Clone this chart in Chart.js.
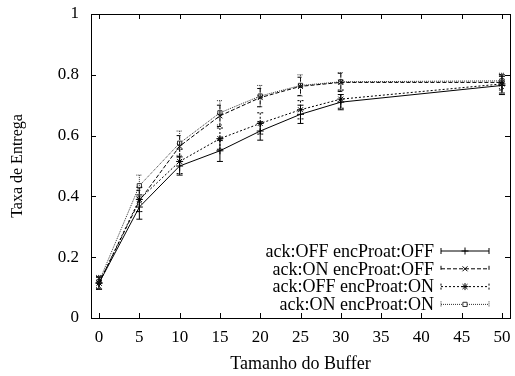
<!DOCTYPE html>
<html>
<head>
<meta charset="utf-8">
<script src="https://cdn.jsdelivr.net/npm/chart.js@4.4.0/dist/chart.umd.min.js"></script>
<style>
  html, body { margin: 0; padding: 0; background: #fff; }
  #wrap { width: 515px; height: 376px; }
</style>
</head>
<body>
<div id="wrap"><canvas id="chart" width="515" height="376"></canvas></div>
<script>
// Data
const bufferSizes = [0, 5, 10, 15, 20, 25, 30, 50];
const xTicks = [0, 5, 10, 15, 20, 25, 30, 35, 40, 45, 50];
const yTicks = [0, 0.2, 0.4, 0.6, 0.8, 1];

const labels = ['ack:OFF encProat:OFF', 'ack:ON encProat:OFF', 'ack:OFF encProat:ON', 'ack:ON encProat:ON'];

const offOff = [0.115, 0.365, 0.50, 0.55, 0.615, 0.67, 0.71, 0.765];
const onOff  = [0.115, 0.385, 0.565, 0.665, 0.725, 0.762, 0.775, 0.775];
const offOn  = [0.115, 0.39, 0.515, 0.59, 0.64, 0.685, 0.72, 0.77];
const onOn   = [0.12, 0.435, 0.575, 0.675, 0.73, 0.765, 0.777, 0.78];

const errOffOff = [0.02, 0.04, 0.03, 0.035, 0.03, 0.03, 0.025, 0.03];
const errOnOff  = [0.02, 0.035, 0.035, 0.035, 0.03, 0.03, 0.03, 0.025];
const errOffOn  = [0.02, 0.04, 0.04, 0.035, 0.035, 0.03, 0.03, 0.03];
const errOnOn   = [0.02, 0.035, 0.04, 0.04, 0.035, 0.035, 0.03, 0.025];

const FONT = 'Liberation Serif';

function makeSet(label, values, errors, dash, marker, color) {
    return {
        label: label,
        data: bufferSizes.map((x, i) => ({ x: x, y: values[i] })),
        errors: errors,
        borderColor: color,
        borderWidth: 1,
        borderDash: dash,
        pointStyle: marker,
        pointRadius: marker === 'rect' ? 3 : 3.5,
        pointBorderColor: color,
        pointBackgroundColor: '#fff',
        pointBorderWidth: 1,
        fill: false,
        tension: 0
    };
}

// Error bars, drawn with the scales
const errorBars = {
    id: 'errorBars',
    afterDatasetsDraw(chart) {
        const c = chart.ctx;
        const yScale = chart.scales.y;
        chart.data.datasets.forEach((ds, di) => {
            const meta = chart.getDatasetMeta(di);
            c.save();
            c.strokeStyle = ds.borderColor;
            c.lineWidth = 1;
            c.setLineDash(ds.borderDash);
            meta.data.forEach((pt, i) => {
                const v = ds.data[i].y;
                const e = ds.errors[i];
                const yt = yScale.getPixelForValue(v + e);
                const yb = yScale.getPixelForValue(v - e);
                c.beginPath();
                c.moveTo(pt.x, yt); c.lineTo(pt.x, yb);
                c.moveTo(pt.x - 3, yt); c.lineTo(pt.x + 3, yt);
                c.moveTo(pt.x - 3, yb); c.lineTo(pt.x + 3, yb);
                c.stroke();
            });
            c.restore();
        });
    }
};

// Border box, inward ticks on all four sides, and the legend inside the plot
const frame = {
    id: 'frame',
    afterDraw(chart) {
        const c = chart.ctx;
        const a = chart.chartArea;
        const xs = chart.scales.x, ys = chart.scales.y;
        c.save();
        c.strokeStyle = '#000';
        c.lineWidth = 1;
        c.setLineDash([]);
        c.strokeRect(Math.round(a.left) + 0.5, Math.round(a.top) + 0.5,
                     Math.round(a.right - a.left), Math.round(a.bottom - a.top));
        c.beginPath();
        xTicks.forEach(v => {
            const px = Math.round(xs.getPixelForValue(v)) + 0.5;
            c.moveTo(px, a.bottom); c.lineTo(px, a.bottom - 5);
            c.moveTo(px, a.top); c.lineTo(px, a.top + 5);
        });
        yTicks.forEach(v => {
            const py = Math.round(ys.getPixelForValue(v)) + 0.5;
            c.moveTo(a.left, py); c.lineTo(a.left + 5, py);
            c.moveTo(a.right, py); c.lineTo(a.right - 5, py);
        });
        c.stroke();

        // legend
        c.font = '18px "' + FONT + '"';
        c.textAlign = 'right';
        c.textBaseline = 'middle';
        c.fillStyle = '#000';
        chart.data.datasets.forEach((ds, i) => {
            const y = a.bottom - 67 + i * 17.8;
            const x1 = a.right - 69, x2 = a.right - 21;
            c.fillText(ds.label, x1 - 7, y + 1);
            c.save();
            c.strokeStyle = ds.borderColor;
            c.setLineDash(ds.borderDash);
            c.beginPath();
            c.moveTo(x1, y); c.lineTo(x2, y);
            c.moveTo(x1, y - 3); c.lineTo(x1, y + 3);
            c.moveTo(x2, y - 3); c.lineTo(x2, y + 3);
            c.stroke();
            c.setLineDash([]);
            c.fillStyle = '#fff';
            Chart.helpers.drawPoint(c, {
                pointStyle: ds.pointStyle, radius: ds.pointRadius, rotation: 0, borderWidth: 1
            }, (x1 + x2) / 2, y);
            c.restore();
        });
        c.restore();
    }
};

const ctx = document.getElementById('chart').getContext('2d');
const chart = new Chart(ctx, {
    type: 'line',
    data: {
        datasets: [
            makeSet(labels[0], offOff, errOffOff, [], 'cross', '#000'),
            makeSet(labels[1], onOff, errOnOff, [4, 2], 'crossRot', '#000'),
            makeSet(labels[2], offOn, errOffOn, [2, 2], 'star', '#000'),
            makeSet(labels[3], onOn, errOnOn, [1, 1], 'rect', '#333')
        ]
    },
    options: {
        responsive: false,
        animation: false,
        devicePixelRatio: 1,
        layout: { padding: { top: 14, right: 4, left: 0, bottom: 0 } },
        plugins: {
            legend: { display: false },
            tooltip: { enabled: false }
        },
        scales: {
            x: {
                type: 'linear',
                min: -1,
                max: 51,
                afterBuildTicks: s => { s.ticks = xTicks.map(v => ({ value: v })); },
                afterFit: s => { s.height = 58; s.paddingLeft = 0; s.paddingRight = 0; },
                grid: { display: false, drawTicks: false },
                border: { display: false },
                ticks: {
                    padding: 9,
                    color: '#000',
                    font: { family: FONT, size: 17 },
                    maxRotation: 0,
                    autoSkip: false
                },
                title: {
                    display: true,
                    text: 'Tamanho do Buffer',
                    color: '#000',
                    font: { family: FONT, size: 18 },
                    padding: { top: 0, bottom: 1 }
                }
            },
            y: {
                min: 0,
                max: 1,
                afterBuildTicks: s => { s.ticks = yTicks.map(v => ({ value: v })); },
                afterFit: s => { s.width = 91; s.paddingTop = 0; s.paddingBottom = 0; },
                grid: { display: false, drawTicks: false },
                border: { display: false },
                ticks: {
                    padding: 12,
                    color: '#000',
                    font: { family: FONT, size: 17 },
                    callback: v => String(v)
                },
                title: {
                    display: true,
                    text: 'Taxa de Entrega',
                    color: '#000',
                    font: { family: FONT, size: 16 },
                    padding: { top: 8, bottom: 0 }
                }
            }
        }
    },
    plugins: [errorBars, frame]
});
</script>
</body>
</html>
